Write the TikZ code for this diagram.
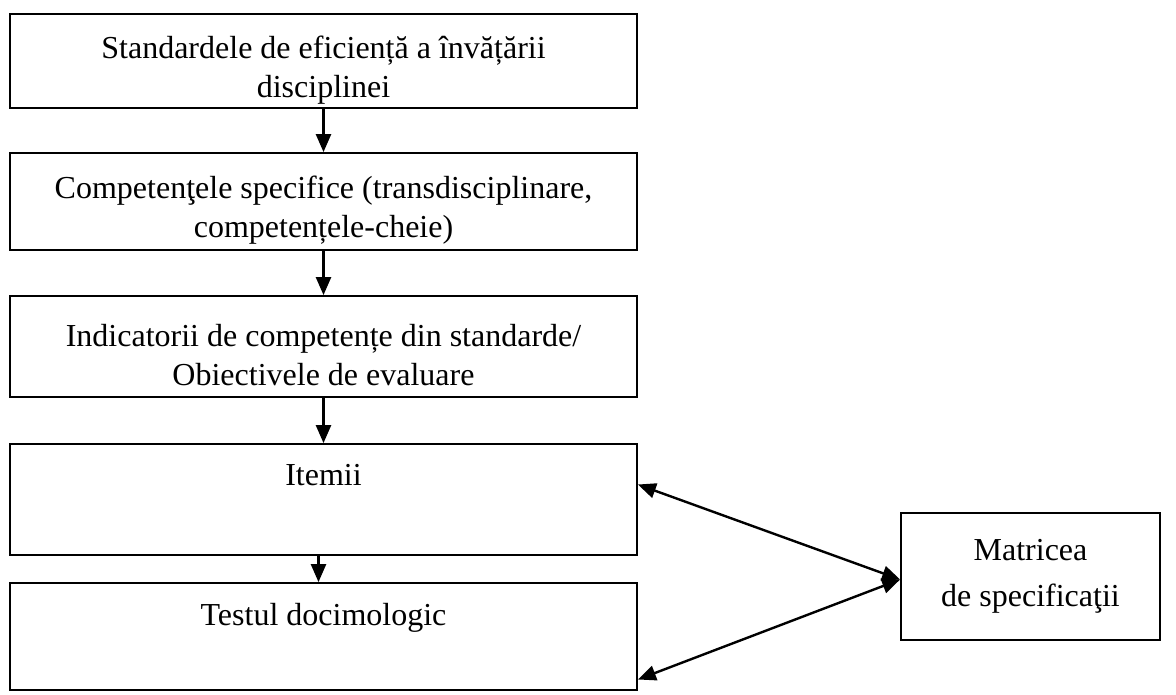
\documentclass[tikz,border=0pt]{standalone}
\usepackage{fontspec}
\setmainfont{Liberation Serif}
\usetikzlibrary{positioning,calc,arrows.meta}
\newcommand{\toppad}{\rule{0pt}{40pt}}

\begin{document}
\begin{tikzpicture}[x=1pt,y=-1pt,line width=1.8pt]
			\tikzstyle{level}=[draw,rectangle,minimum width=627pt,inner sep=0pt,align=center,font=\fontsize{32}{39}\selectfont]
			\tikzstyle{link}=[-{Triangle[length=18pt,width=15pt]},line width=2.4pt]
			\tikzstyle{twoway}=[{Triangle[length=18pt,width=15pt]}-{Triangle[length=18pt,width=15pt]},line width=2.4pt]
			\useasboundingbox (0,0) rectangle (1176,695);
			\node[level,minimum height=94pt] (stand) at (323.5,61) {\toppad Standardele de eficiență a învățării\\disciplinei};
			\node[level,minimum height=97pt] (comp) at (323.5,201.5) {\toppad Competenţele specifice (transdisciplinare,\\competențele-cheie)};
			\node[level,minimum height=101pt] (ind) at (323.5,346.5) {\toppad Indicatorii de competențe din standarde/\\Obiectivele de evaluare};
			\node[level,minimum height=111pt] (itemii) at (323.5,499.5) {Itemii\\[10pt]\mbox{}};
			\node[level,minimum height=107pt] (testul) at (323.5,636.5) {Testul docimologic\\[6pt]\mbox{}};
			\node[level,minimum width=259pt,minimum height=127pt,font=\fontsize{32}{46}\selectfont] (matr) at (1030.5,576.5) {Matricea\\de specificaţii};

			\draw[link] (stand) -- (comp);
			\draw[link] (comp) -- (ind);
			\draw[link] (ind) -- (itemii);
			\draw[link] ([xshift=-5pt]itemii.south) -- ([xshift=-5pt]testul.north);
			\draw[twoway] ([yshift=15pt]itemii.east) -- ([yshift=-3pt]matr.west);
			\draw[twoway] ([yshift=-43pt]testul.east) -- ([yshift=-3pt]matr.west);
		\end{tikzpicture}
\end{document}
